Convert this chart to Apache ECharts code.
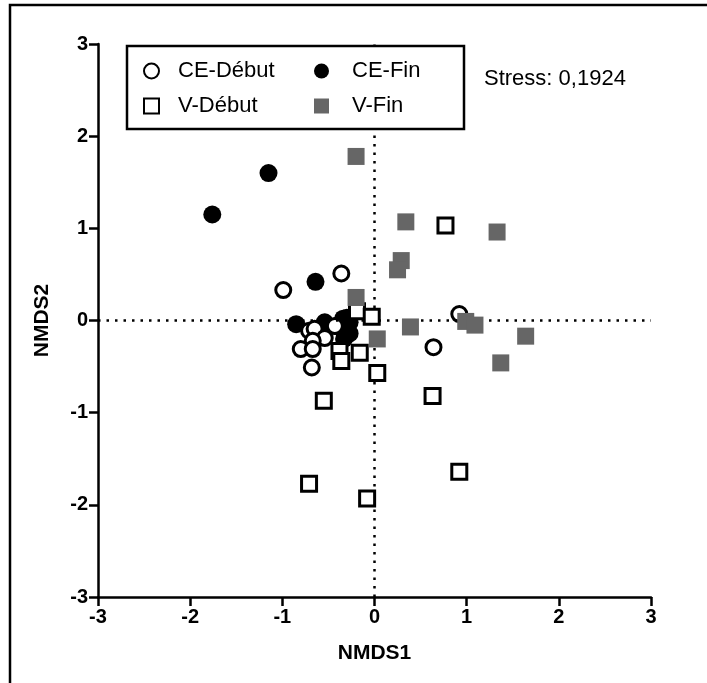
<!DOCTYPE html>
<html><head><meta charset="utf-8">
<script src="https://cdn.jsdelivr.net/npm/echarts@6/dist/echarts.min.js"></script>
<style>html,body{margin:0;padding:0;background:#fff}#c{width:707px;height:683px}</style>
</head><body><div id="c"></div>
<script>
const seriesNames = ['CE-Début', 'CE-Fin', 'V-Début', 'V-Fin'];
const axisTicks = [-3, -2, -1, 0, 1, 2, 3];
const ceDebut = [[-0.36,0.51],[-0.99,0.33],[-0.71,-0.11],[-0.65,-0.09],[-0.43,-0.06],[-0.54,-0.19],[-0.67,-0.22],[-0.80,-0.31],[-0.67,-0.31],[-0.68,-0.51],[0.92,0.07],[0.64,-0.29]];
const ceFin = [[-1.76,1.15],[-1.15,1.60],[-0.64,0.42],[-0.85,-0.04],[-0.54,-0.02],[-0.41,-0.06],[-0.34,0.02],[-0.30,0.03],[-0.27,-0.02],[-0.27,-0.14],[-0.33,-0.20]];
const vDebut = [[-0.19,0.10],[-0.03,0.04],[-0.38,-0.33],[-0.36,-0.44],[-0.16,-0.35],[0.03,-0.57],[0.77,1.03],[0.63,-0.82],[0.92,-1.64],[-0.55,-0.87],[-0.71,-1.77],[-0.08,-1.93]];
const vFin = [[-0.20,1.78],[0.34,1.07],[0.29,0.65],[0.25,0.55],[1.33,0.96],[0.39,-0.07],[0.99,-0.01],[1.09,-0.05],[1.64,-0.17],[1.37,-0.46],[0.03,-0.20],[-0.20,0.25]];
const stressText = 'Stress: 0,1924';

const chart = echarts.init(document.getElementById('c'));
const F = 'Arial, "Liberation Sans", sans-serif';
function axis(name, gap) {
  return {
    type: 'value', min: axisTicks[0], max: axisTicks[axisTicks.length-1], interval: 1,
    name: name, nameLocation: 'middle', nameGap: gap,
    nameTextStyle: {fontFamily: F, fontWeight: 'bold', fontSize: 21, color: '#000'},
    axisLine: {show: true, onZero: false, lineStyle: {color: '#000', width: 2.5}},
    axisTick: {show: true, inside: false, length: 9, lineStyle: {color: '#000', width: 2.5}},
    axisLabel: {fontFamily: F, fontWeight: 'bold', fontSize: 20, color: '#000', margin: 10},
    splitLine: {show: false}
  };
}
const openStyle = {color: '#fff', borderColor: '#000', borderWidth: 3, opacity: 1};
const legendText = {fontFamily: F, fontSize: 22, lineHeight: 22, color: '#000', padding: [0, 0, 0, 14]};
const legendBase = {orient: 'vertical', top: 60, padding: 0, itemWidth: 15, itemHeight: 15, itemGap: 13, z: 20, textStyle: legendText};
chart.setOption({
  animation: false,
  grid: {left: 98, right: 56, top: 44, bottom: 86},
  xAxis: axis('NMDS1', 46),
  yAxis: axis('NMDS2', 45),
  legend: [
    Object.assign({data: [seriesNames[0], seriesNames[2]], left: 143}, legendBase),
    Object.assign({data: [seriesNames[1], seriesNames[3]], left: 314, textStyle: Object.assign({}, legendText, {padding: [0, 0, 0, 18]})}, {orient: 'vertical', top: 60, padding: 0, itemWidth: 15, itemHeight: 15, itemGap: 13, z: 20})
  ],
  graphic: [
    {type: 'rect', shape: {x: 10, y: 5, width: 900, height: 900}, style: {fill: 'none', stroke: '#000', lineWidth: 2.5}, silent: true},
    {type: 'rect', z: 15, shape: {x: 127, y: 46, width: 337, height: 83}, style: {fill: '#fff', stroke: '#000', lineWidth: 2.5}, silent: true},
    {type: 'text', left: 484, top: 68, style: {text: stressText, font: '22px Arial, "Liberation Sans", sans-serif', fill: '#000'}}
  ],
  series: [
    {name: seriesNames[1], type: 'scatter', data: ceFin, symbol: 'circle', symbolSize: 18, itemStyle: {color: '#000', opacity: 1}, z: 3,
     markLine: {silent: true, symbol: 'none', label: {show: false}, lineStyle: {color: '#000', width: 2.5, type: [2.5, 6], opacity: 1},
       data: [{xAxis: 0}, {yAxis: 0}]}},
    {name: seriesNames[0], type: 'scatter', data: ceDebut, symbol: 'circle', symbolSize: 15, itemStyle: openStyle, z: 4},
    {name: seriesNames[2], type: 'scatter', data: vDebut, symbol: 'rect', symbolSize: 15, itemStyle: openStyle, z: 5},
    {name: seriesNames[3], type: 'scatter', data: vFin, symbol: 'rect', symbolSize: 17, itemStyle: {color: '#666', opacity: 1}, z: 6}
  ]
});
</script></body></html>
